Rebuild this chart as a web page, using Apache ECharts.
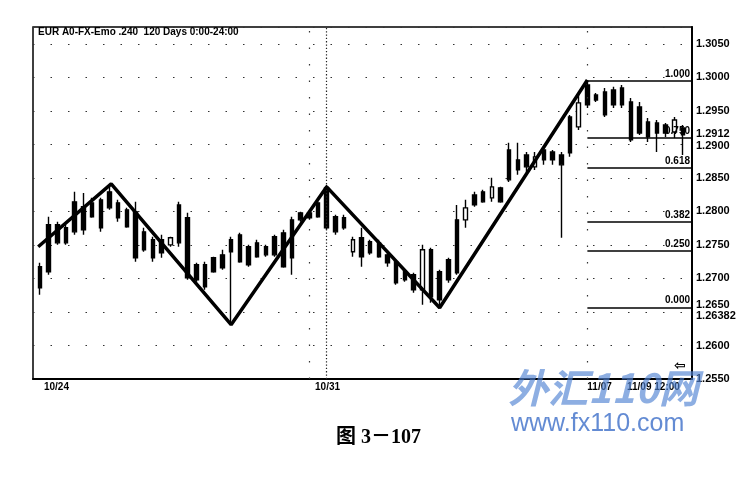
<!DOCTYPE html>
<html><head><meta charset="utf-8">
<script src="https://cdn.jsdelivr.net/npm/echarts@6/dist/echarts.min.js"></script>
<style>html,body{margin:0;padding:0;background:#fff}#c{width:753px;height:487px}</style>
</head><body><div id="c"></div>
<script>
// ---- data ----
const opens  = [1.27174,1.27800,1.27800,1.27755,1.28142,1.28068,1.28127,1.28172,1.28291,1.28127,
                1.28023,1.27993,1.27695,1.27576,1.27576,1.27501,1.28097,1.27904,1.27203,1.27203,
                1.27308,1.27352,1.27576,1.27650,1.27472,1.27531,1.27472,1.27621,1.27680,1.27874,
                1.27978,1.27978,1.28127,1.28351,1.27919,1.27904,1.27397,1.27606,1.27546,1.27531,
                1.27352,1.27248,1.27099,1.27055,1.26831,1.27427,1.27099,1.27278,1.27874,1.27874,
                1.28246,1.28291,1.28202,1.28351,1.28917,1.28768,1.28842,1.28664,1.28917,1.28887,
                1.28842,1.29409,1.29260,1.29886,1.29737,1.29782,1.29811,1.29841,1.29632,1.29558,
                1.29334,1.29320,1.29290,1.29185,1.29245];
const closes = [1.26861,1.27099,1.27531,1.27531,1.27695,1.27725,1.27919,1.27755,1.28053,1.27904,
                1.27770,1.27308,1.27427,1.27308,1.27382,1.27606,1.27531,1.27010,1.26980,1.26876,
                1.27099,1.27159,1.27397,1.27248,1.27203,1.27323,1.27352,1.27352,1.27174,1.27308,
                1.27874,1.27904,1.27919,1.27755,1.27695,1.27755,1.27576,1.27323,1.27382,1.27323,
                1.27233,1.26935,1.26980,1.26831,1.27427,1.26727,1.26682,1.26980,1.27084,1.28053,
                1.28097,1.28142,1.28366,1.28142,1.28470,1.28619,1.28664,1.28813,1.28768,1.28768,
                1.28694,1.28872,1.29618,1.29588,1.29662,1.29439,1.29588,1.29588,1.29066,1.29170,
                1.29111,1.29170,1.29170,1.29364,1.29141];
const lows   = [1.26756,1.27055,1.27501,1.27501,1.27650,1.27650,1.27904,1.27695,1.28023,1.27844,
                1.27755,1.27248,1.27397,1.27248,1.27308,1.27472,1.27472,1.26980,1.26950,1.26831,
                1.27084,1.27129,1.26310,1.27233,1.27174,1.27308,1.27323,1.27323,1.27159,1.27055,
                1.27844,1.27874,1.27904,1.27725,1.27650,1.27725,1.27323,1.27174,1.27352,1.27308,
                1.27174,1.26905,1.26950,1.26786,1.26607,1.26637,1.26578,1.26935,1.27055,1.27755,
                1.28068,1.28127,1.28142,1.28127,1.28440,1.28545,1.28589,1.28619,1.28694,1.28694,
                1.27606,1.28813,1.29215,1.29543,1.29632,1.29409,1.29543,1.29543,1.29036,1.29141,
                1.29036,1.28887,1.29111,1.29096,1.28842];
const highs  = [1.27233,1.27919,1.27844,1.27800,1.28291,1.28276,1.28202,1.28202,1.28396,1.28172,
                1.28053,1.28142,1.27755,1.27621,1.27650,1.27621,1.28142,1.27978,1.27233,1.27248,
                1.27323,1.27427,1.27621,1.27680,1.27501,1.27576,1.27501,1.27650,1.27725,1.27919,
                1.27993,1.27993,1.28172,1.28396,1.27948,1.27948,1.27621,1.27755,1.27576,1.27576,
                1.27397,1.27278,1.27129,1.27084,1.27501,1.27457,1.27129,1.27308,1.28097,1.28172,
                1.28291,1.28321,1.28500,1.28366,1.29022,1.29022,1.28887,1.28887,1.28947,1.28917,
                1.28887,1.29439,1.29767,1.29931,1.29767,1.29841,1.29857,1.29886,1.29692,1.29632,
                1.29394,1.29364,1.29320,1.29409,1.29290];
const barSlots = opens.map((_, i) => i);

const zigzagX = [-0.2, 8.2, 22, 33, 46, 63];
const zigzagY = [1.27472, 1.28411, 1.26310, 1.28366, 1.26563, 1.29960];

const fibRatios = ['1.000', '0.750', '0.618', '0.382', '0.250', '0.000'];
const fibPrices = [1.29945, 1.29096, 1.28649, 1.27844, 1.27412, 1.26563];
const fibStartSlot = 63;

const xLabelPos  = [1.9, 33.1, 64.4, 70.6];
const xLabelText = ['10/24', '10/31', '11/07', '11/09 12:00'];

const yLabelValues = [1.2550, 1.2600, 1.26382, 1.2650, 1.2700, 1.2750, 1.2800, 1.2850, 1.2900, 1.2912, 1.2950, 1.3000, 1.3050];
const yLabelText   = ['1.2550','1.2600','1.26382','1.2650','1.2700','1.2750','1.2800','1.2850','1.2900','1.2912','1.2950','1.3000','1.3050'];

const vGridSlots = [31, 63];
const separatorSlot = 33;

const titleText = 'EUR A0-FX-Emo .240  120 Days 0:00-24:00';
const captionText = '图 3－107';

// ---- chart ----
const X_MIN = -0.8, X_MAX = 75.04;
const nudge = { '1.2650': 'up6', '1.26382': 'up4', '1.2912': 'up2', '1.2900': 'dn2' };

const chart = echarts.init(document.getElementById('c'), null, { renderer: 'canvas' });
const candleData = barSlots.map((s, i) => [s, opens[i], closes[i], lows[i], highs[i]]);
const zigzag = zigzagX.map((x, i) => [x, zigzagY[i]]);

const labelFont = '"Liberation Sans Narrow", "Liberation Sans", Arial, sans-serif';
const richBase = { fontSize: 11, fontWeight: 'bold', fontFamily: labelFont, color: '#000' };

const option = {
  animation: false,
  backgroundColor: '#fff',
  grid: { left: 33, top: 27, width: 659, height: 352, show: true, borderColor: '#000', borderWidth: 1.5 },
  xAxis: {
    type: 'value', min: X_MIN, max: X_MAX,
    splitLine: { show: false }, axisTick: { show: false },
    axisLine: { show: true, onZero: false, lineStyle: { color: '#000', width: 2 } },
    axisLabel: {
      customValues: xLabelPos,
      formatter: (v) => {
        let best = 0;
        xLabelPos.forEach((p, i) => { if (Math.abs(p - v) < Math.abs(xLabelPos[best] - v)) best = i; });
        return xLabelText[best];
      },
      color: '#000', fontSize: 10, fontWeight: 'bold', fontFamily: labelFont, margin: 3
    }
  },
  yAxis: {
    type: 'value', position: 'right', min: 1.255, max: 1.3075, interval: 0.005,
    axisLine: { show: true, onZero: false, lineStyle: { color: '#000', width: 2 } },
    axisTick: { show: false },
    splitLine: { show: true, lineStyle: { color: '#333', type: [1.5, 16], width: 1.2 } },
    axisLabel: {
      customValues: yLabelValues,
      formatter: (v) => {
        let best = 0;
        yLabelValues.forEach((p, i) => { if (Math.abs(p - v) < Math.abs(yLabelValues[best] - v)) best = i; });
        const t = yLabelText[best];
        return nudge[t] ? '{' + nudge[t] + '|' + t + '}' : t;
      },
      rich: {
        up6: Object.assign({ padding: [0, 0, 14, 0] }, richBase),
        up4: Object.assign({ padding: [0, 0, 8, 0] }, richBase),
        up2: Object.assign({ padding: [0, 0, 5, 0] }, richBase),
        dn2: Object.assign({ padding: [4, 0, 0, 0] }, richBase)
      },
      margin: 4, color: '#000', fontSize: 11, fontWeight: 'bold', fontFamily: labelFont
    }
  },
  series: [
    {
      type: 'candlestick',
      data: candleData,
      encode: { x: 0, y: [1, 2, 3, 4] },
      barWidth: 4,
      itemStyle: { color: '#fff', color0: '#000', borderColor: '#000', borderColor0: '#000', borderWidth: 1.4 },
      markLine: {
        silent: true, symbol: 'none', label: { show: false },
        data: vGridSlots.map(s => ({ xAxis: s, lineStyle: { color: '#333', type: [1.5, 15], width: 1.2 } }))
          .concat([{ xAxis: separatorSlot, lineStyle: { color: '#222', type: [1.3, 2], width: 1.2 } }])
      },
      z: 3
    },
    {
      type: 'line',
      data: zigzag,
      symbol: 'none',
      lineStyle: { color: '#000', width: 3.5 },
      z: 5,
      markLine: {
        silent: true, symbol: 'none',
        lineStyle: { color: '#000', width: 1.6, type: 'solid' },
        label: {
          show: true, position: 'insideEndTop', formatter: '{b}', distance: 2,
          color: '#000', fontSize: 10, fontWeight: 'bold', fontFamily: labelFont
        },
        data: fibPrices.map((v, i) => [
          { coord: [fibStartSlot, v], name: fibRatios[i] },
          { coord: [X_MAX, v] }
        ])
      }
    }
  ],
  graphic: [
    { type: 'text', left: 38, top: 27, z: 10, style: { text: titleText, font: 'bold 10px ' + labelFont, fill: '#000' } },
    { type: 'text', left: 674, top: 359, z: 10, style: { text: '⇦', font: 'bold 14px "DejaVu Sans"', fill: '#000' } },
    { type: 'text', left: 508, top: 368, z: 20, style: { text: '外汇110网', font: 'italic bold 40px "Noto Sans CJK SC"', fill: 'rgba(80,130,210,0.65)' } },
    { type: 'text', left: 511, top: 412, z: 20, style: { text: 'www.fx110.com', font: '25px "Liberation Sans", sans-serif', fill: 'rgba(60,110,200,0.8)' } },
    { type: 'text', left: 336, top: 428, z: 10, style: { text: captionText, font: 'bold 20px "Liberation Serif", "Noto Sans CJK SC", serif', fill: '#000' } }
  ]
};
chart.setOption(option);
</script>
</body></html>
